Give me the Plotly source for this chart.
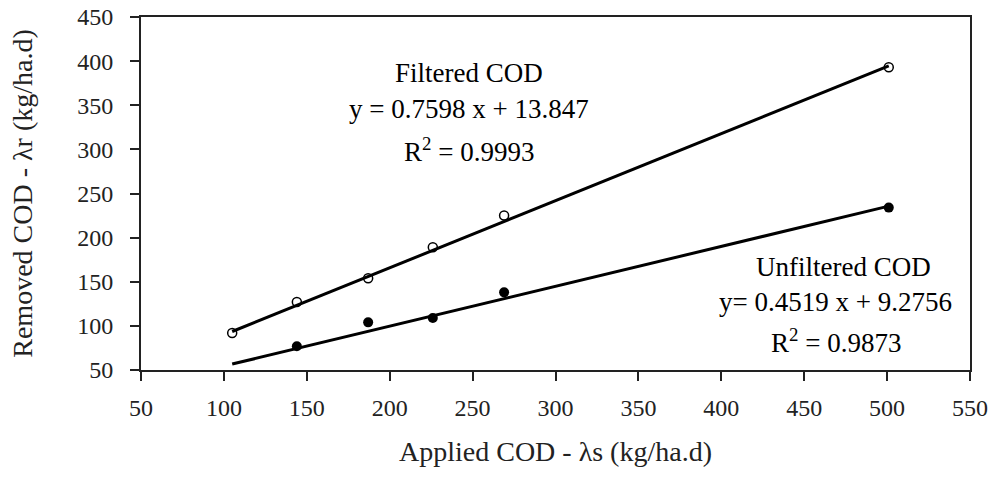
import plotly.graph_objects as go

# Data
applied_filtered = [105, 144, 187, 226, 269, 501]
removed_filtered = [92, 127, 154, 189, 225, 393]

applied_unfiltered = [144, 187, 226, 269, 501]
removed_unfiltered = [77, 104, 109, 138, 234]

# Trendline coefficients (from the chart labels) and fitted x-span
filt_slope, filt_intercept = 0.7598, 13.847
unf_slope, unf_intercept = 0.4519, 9.2756
trend_x = [105, 501]

x_ticks = [50, 100, 150, 200, 250, 300, 350, 400, 450, 500, 550]
y_ticks = [50, 100, 150, 200, 250, 300, 350, 400, 450]

FONT = "Liberation Serif, Times New Roman, Times, serif"

fig = go.Figure()

fig.add_trace(go.Scatter(
    x=trend_x, y=[filt_slope * v + filt_intercept for v in trend_x],
    mode="lines", line=dict(color="black", width=3), showlegend=False, hoverinfo="skip"))
fig.add_trace(go.Scatter(
    x=trend_x, y=[unf_slope * v + unf_intercept for v in trend_x],
    mode="lines", line=dict(color="black", width=3), showlegend=False, hoverinfo="skip"))

fig.add_trace(go.Scatter(
    x=applied_filtered, y=removed_filtered, mode="markers", name="Filtered COD",
    marker=dict(symbol="circle-open", size=9, color="black", line=dict(width=1.5)),
    showlegend=False))
fig.add_trace(go.Scatter(
    x=applied_unfiltered, y=removed_unfiltered, mode="markers", name="Unfiltered COD",
    marker=dict(symbol="circle", size=10, color="black"),
    showlegend=False))

ann_font = dict(family=FONT, size=27, color="black")
annotations = [
    dict(x=248, y=387, text="Filtered COD"),
    dict(x=248, y=346, text="y = 0.7598 x + 13.847"),
    dict(x=248, y=299, text="R<sup>2</sup> = 0.9993"),
    dict(x=474, y=167, text="Unfiltered COD"),
    dict(x=469, y=127, text="y= 0.4519 x + 9.2756"),
    dict(x=469, y=83, text="R<sup>2</sup> = 0.9873"),
]
for a in annotations:
    fig.add_annotation(xref="x", yref="y", showarrow=False, font=ann_font,
                       xanchor="center", yanchor="middle", **a)

axis_common = dict(
    showgrid=False, zeroline=False, showline=True, linecolor="#222", linewidth=2,
    mirror=True, ticks="outside", ticklen=9, tickwidth=2, tickcolor="#222",
    tickfont=dict(family=FONT, size=24, color="#222"), automargin=False,
)

fig.update_xaxes(
    range=[50, 550], tickvals=x_ticks, ticktext=[str(v) for v in x_ticks],
    ticklabelstandoff=6,
    title=dict(text="Applied COD - λs (kg/ha.d)", font=dict(family=FONT, size=28, color="#222"), standoff=22),
    **axis_common)
fig.update_yaxes(
    range=[50, 450], tickvals=y_ticks, ticktext=[str(v) for v in y_ticks],
    ticklabelstandoff=12,
    title=dict(text="Removed COD - λr (kg/ha.d)", font=dict(family=FONT, size=28, color="#222"), standoff=36),
    **axis_common)

fig.update_layout(
    width=989, height=481,
    margin=dict(l=141, r=19, t=17, b=111),
    paper_bgcolor="white", plot_bgcolor="white",
    font=dict(family=FONT),
)

fig.write_html("out.html", config={"displayModeBar": False},
               post_script="document.body.style.margin='0px';")
